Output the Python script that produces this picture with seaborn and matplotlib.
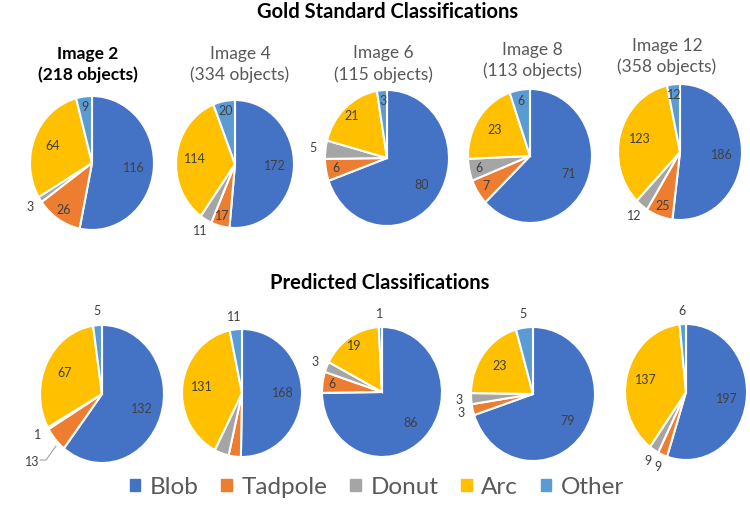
import numpy as np
import matplotlib
matplotlib.use("Agg")
import matplotlib.pyplot as plt
import matplotlib.patches as mpatches
import seaborn as sns

# data
categories = ["Blob", "Tadpole", "Donut", "Arc", "Other"]
images = ["Image 2", "Image 4", "Image 6", "Image 8", "Image 12"]
object_counts = [218, 334, 115, 113, 358]

gold_img2 = [116, 26, 3, 64, 9]
gold_img4 = [172, 17, 11, 114, 20]
gold_img6 = [80, 6, 5, 21, 3]
gold_img8 = [71, 7, 6, 23, 6]
gold_img12 = [186, 25, 12, 123, 12]

pred_img2 = [132, 13, 1, 67, 5]
pred_img4 = [168, 11, 13, 131, 11]
pred_img6 = [86, 6, 3, 19, 1]
pred_img8 = [79, 3, 3, 23, 5]
pred_img12 = [197, 9, 9, 137, 6]

gold = [gold_img2, gold_img4, gold_img6, gold_img8, gold_img12]
pred = [pred_img2, pred_img4, pred_img6, pred_img8, pred_img12]

colors = ["#4472C4", "#ED7D31", "#A5A5A5", "#FFC000", "#5B9BD5"]

sns.set_theme(style="white")
plt.rcParams["font.family"] = ["Lato", "DejaVu Sans"]

W, H = 750, 507
fig = plt.figure(figsize=(W / 100, H / 100), dpi=100)

# layout (pixel centres and radii of each pie)
gold_pos = [(92, 163, 62, 67), (235, 164, 59, 64), (387, 158, 62, 68),
            (530, 156, 62, 67), (680, 152, 62, 68)]
pred_pos = [(102, 394, 62, 69), (242, 393, 60, 64), (382, 392, 60, 65),
            (533, 394, 62, 67), (686, 392, 61, 68)]
title_pos = [(88, 64.5), (240, 64.5), (383, 64), (532, 60.5), (667, 56.5)]

# label placement tweaks seen in the reference
hidden = {("pred", 1, 1), ("pred", 1, 2)}
forced_in = {("gold", 0, 4), ("gold", 2, 4), ("gold", 4, 4)}
far_out = {("pred", 0, 1)}


def draw_pie(vals, pos, key, idx):
    cx, cy, rx, ry = pos
    ax = fig.add_axes([(cx - rx) / W, 1 - (cy + ry) / H, 2 * rx / W, 2 * ry / H])
    wedges, _ = ax.pie(vals, colors=colors, startangle=90, counterclock=False,
                       wedgeprops=dict(edgecolor="white", linewidth=1.5))
    ax.set_aspect("auto")
    ax.set_xlim(-1, 1)
    ax.set_ylim(-1, 1)
    ax.axis("off")
    total = sum(vals)
    for j, (w, v) in enumerate(zip(wedges, vals)):
        k = (key, idx, j)
        if k in hidden:
            continue
        frac = v / total
        ang = np.deg2rad((w.theta1 + w.theta2) / 2)
        if k in far_out:
            r = 1.5
        elif frac > 0.2:
            r = 0.68
        elif frac >= 0.045 or k in forced_in:
            r = 0.84
        else:
            r = 1.2
        ax.text(r * np.cos(ang), r * np.sin(ang), str(v), ha="center", va="center",
                fontsize=9, color="#404040")
    return ax


for i, vals in enumerate(gold):
    draw_pie(vals, gold_pos[i], "gold", i)
for i, vals in enumerate(pred):
    draw_pie(vals, pred_pos[i], "pred", i)

# leader line for the small predicted slices of image 2
fig.add_artist(plt.Line2D([40 / W, 46 / W, 56 / W], [1 - 460 / H, 1 - 460 / H, 1 - 446 / H],
                          color="#A5A5A5", linewidth=0.8))

# titles
fig.text(388 / W, 1 - 12 / H, "Gold Standard Classifications", ha="center", va="center",
         fontsize=14.5, fontweight="bold", color="black")
fig.text(380 / W, 1 - 283 / H, "Predicted Classifications", ha="center", va="center",
         fontsize=14.5, fontweight="bold", color="black")

for i, name in enumerate(images):
    x, y = title_pos[i]
    bold = i == 0
    fig.text(x / W, 1 - y / H, f"{name}\n({object_counts[i]} objects)", ha="center", va="center",
             fontsize=12.5, linespacing=1.4,
             fontweight="bold" if bold else "normal",
             color="black" if bold else "#595959")

handles = [mpatches.Patch(color=c, label=l) for c, l in zip(colors, categories)]
fig.legend(handles=handles, loc="center", bbox_to_anchor=(377 / W, 1 - 487 / H), ncol=5,
           frameon=False, fontsize=17.5, handlelength=0.42, handleheight=0.42,
           handletextpad=0.4, columnspacing=0.95, labelcolor="#595959")

fig.savefig("out.png", dpi=100, facecolor="white")
